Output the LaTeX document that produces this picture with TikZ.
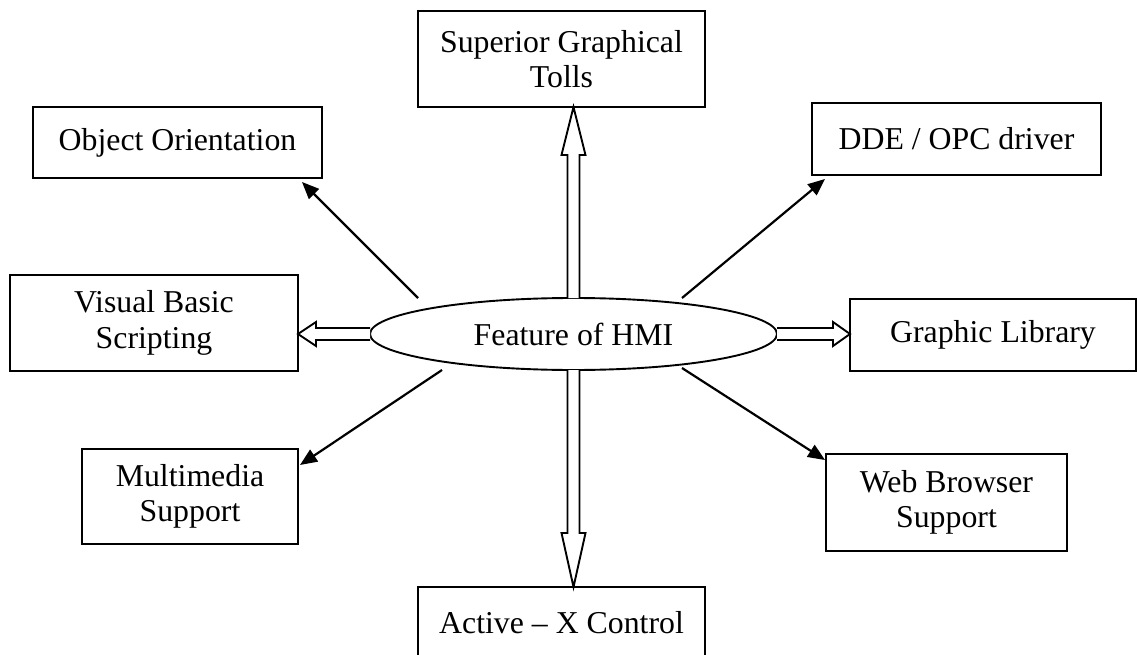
\documentclass[tikz,border=0pt]{standalone}
\usepackage{fontspec}
\setmainfont{Liberation Serif}
\usetikzlibrary{calc,arrows.meta,shapes.geometric}
\begin{document}
\begin{tikzpicture}[x=1pt,y=-1pt,
  every node/.style={font=\fontsize{31.8}{35.5}\selectfont, inner sep=0pt, outer sep=0pt},
  box/.style={draw, line width=2.2pt, rectangle, align=center},
  hub/.style={draw, line width=1.9pt, ellipse, minimum width=407pt, minimum height=72pt},
  thinarrow/.style={line width=2.2pt, -{Triangle[length=17pt,width=14pt]}},
  blockarrow/.style={line width=1.9pt, line join=miter, fill=white}
]
\useasboundingbox (0,0) rectangle (1137,655);

% central ellipse
\node[hub] (hmi) at (573.5,334) {Feature of HMI};

% boxes
\node[box, minimum width=287pt, minimum height=96pt] (sup) at (561.5,59) {Superior Graphical\\Tolls};
\node[box, minimum width=289pt, minimum height=71pt] (obj) at (177.5,142.5) {Object Orientation};
\node[box, minimum width=289pt, minimum height=72pt] (dde) at (956.5,139) {DDE / OPC driver};
\node[box, minimum width=288pt, minimum height=96pt] (vbs) at (154,323) {Visual Basic\\Scripting};
\node[box, minimum width=286pt, minimum height=72pt] (gl) at (993,335) {Graphic Library};
\node[box, minimum width=216pt, minimum height=95pt] (mm) at (190,496.5) {Multimedia\\Support};
\node[box, minimum width=241pt, minimum height=97pt] (wb) at (946.5,502.5) {Web Browser\\Support};
\node[box, minimum width=287pt, minimum height=72pt] (ax) at (561.5,623) {Active -- X Control};

% free ends of the thin arrows
\coordinate (oos) at (418,298);
\coordinate (ddes) at (682,298);
\coordinate (mms) at (442,370);
\coordinate (wbs) at (682,368);

\draw[thinarrow] (oos) -- ($(obj.south east)+(-20,4)$);
\draw[thinarrow] (ddes) -- ($(dde.south west)+(13,4)$);
\draw[thinarrow] (mms) -- ($(mm.north east)+(2,16)$);
\draw[thinarrow] (wbs) -- ($(wb.north west)+(-1,6)$);

% hollow block arrows
% up
\draw[blockarrow] ($(hmi.north)+(-6,0)$) -- ($(hmi.north |- sup.south)+(-6,48)$) -- ++(-6,0)
  -- (hmi.north |- sup.south) -- ($(hmi.north |- sup.south)+(12,48)$) -- ++(-6,0) -- ($(hmi.north)+(6,0)$);
% down
\draw[blockarrow] ($(hmi.south)+(-6,0)$) -- ($(hmi.south |- ax.north)+(-6,-54)$) -- ++(-6,0)
  -- (hmi.south |- ax.north) -- ($(hmi.south |- ax.north)+(12,-54)$) -- ++(-6,0) -- ($(hmi.south)+(6,0)$);
% left
\draw[blockarrow] ($(hmi.west)+(0,-6)$) -- ($(vbs.east |- hmi.west)+(18,-6)$) -- ++(0,-6)
  -- (vbs.east |- hmi.west) -- ($(vbs.east |- hmi.west)+(18,12)$) -- ++(0,-6) -- ($(hmi.west)+(0,6)$);
% right
\draw[blockarrow] ($(hmi.east)+(0,-6)$) -- ($(gl.west |- hmi.east)+(-17,-6)$) -- ++(0,-6)
  -- (gl.west |- hmi.east) -- ($(gl.west |- hmi.east)+(-17,12)$) -- ++(0,-6) -- ($(hmi.east)+(0,6)$);
\end{tikzpicture}
\end{document}
